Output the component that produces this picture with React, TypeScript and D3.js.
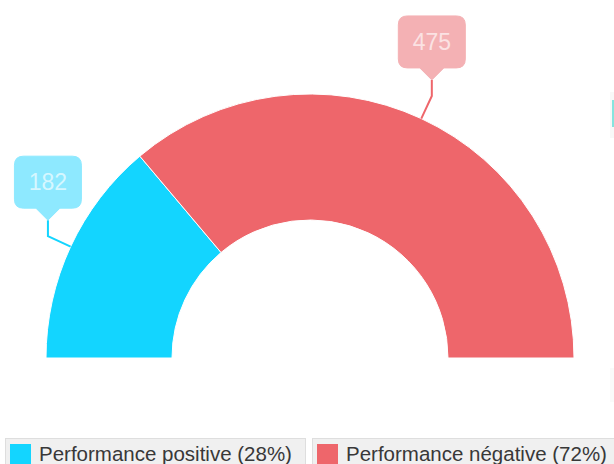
import * as d3 from "d3";

const categories = ["Performance positive", "Performance négative"];
const values = [182, 475];
const colors = ["#13d5ff", "#ee666b"];
const labelFills = ["#8ee9ff", "#f4b1b4"];
const labelText = ["#d6f7ff", "#fbe2e3"];

const W = 614;
const H = 464;

export default function App() {
  const cx = 310;
  const cy = 358;
  const outerR = 264;
  const innerR = 138;

  const pie = d3
    .pie<number>()
    .sort(null)
    .startAngle(-Math.PI / 2)
    .endAngle(Math.PI / 2);
  const slices = pie(values);
  const arc = d3.arc<d3.PieArcDatum<number>>().innerRadius(innerR).outerRadius(outerR);

  const total = d3.sum(values);
  const pct = values.map((v) => Math.round((v / total) * 100));

  // legend layout
  const legendX = [5, 312];
  const legendW = [300, 310];
  const legendY = 438;

  return (
    <svg
      width={W}
      height={H}
      style={{ position: "absolute", left: 0, top: 0, background: "#fff" }}
      fontFamily="'Liberation Sans', Arial, sans-serif"
    >
      <g transform={`translate(${cx},${cy})`}>
        {slices.map((s, i) => (
          <path key={i} d={arc(s) ?? ""} fill={colors[i]} stroke="#fff" strokeWidth={1} />
        ))}
      </g>

      {slices.map((s, i) => {
        const a = (s.startAngle + s.endAngle) / 2;
        const sx = cx + outerR * Math.sin(a);
        const sy = cy - outerR * Math.cos(a);
        const ex = cx + (outerR + 25) * Math.sin(a);
        const ey = cy - (outerR + 25) * Math.cos(a);
        const tipY = ey - 16;
        const boxW = 67;
        const boxH = 52;
        const boxBottom = tipY - 12;
        const bx = ex - boxW / 2;
        const by = boxBottom - boxH;
        const r = 9;
        const p = d3.path();
        p.moveTo(bx + r, by);
        p.lineTo(bx + boxW - r, by);
        p.quadraticCurveTo(bx + boxW, by, bx + boxW, by + r);
        p.lineTo(bx + boxW, boxBottom - r);
        p.quadraticCurveTo(bx + boxW, boxBottom, bx + boxW - r, boxBottom);
        p.lineTo(ex + 12, boxBottom);
        p.lineTo(ex, tipY);
        p.lineTo(ex - 12, boxBottom);
        p.lineTo(bx + r, boxBottom);
        p.quadraticCurveTo(bx, boxBottom, bx, boxBottom - r);
        p.lineTo(bx, by + r);
        p.quadraticCurveTo(bx, by, bx + r, by);
        p.closePath();
        return (
          <g key={i}>
            <polyline
              points={`${sx},${sy} ${ex},${ey} ${ex},${tipY}`}
              fill="none"
              stroke={colors[i]}
              strokeWidth={2}
            />
            <path d={p.toString()} fill={labelFills[i]} stroke={labelFills[i]} strokeWidth={1} />
            <text
              x={ex}
              y={by + 34}
              textAnchor="middle"
              fontSize={23}
              fill={labelText[i]}
            >
              {values[i]}
            </text>
          </g>
        );
      })}

      {/* clipped element at right edge */}
      <rect x={610} y={92} width={6} height={46} fill="#f8f8f8" />
      <rect x={612} y={100} width={2} height={27} fill="#86e4de" />
      <rect x={610} y={368} width={6} height={34} fill="#fafafa" />

      {categories.map((c, i) => (
        <g key={c} transform={`translate(${legendX[i]},${legendY})`}>
          <rect x={0.5} y={0.5} width={legendW[i]} height={40} fill="#f0f0f0" stroke="#dedede" />
          <rect x={5} y={6} width={21} height={30} fill={colors[i]} />
          <text x={34} y={23} fontSize={20.5} fill="#383838">
            {`${c} (${pct[i]}%)`}
          </text>
        </g>
      ))}
    </svg>
  );
}
